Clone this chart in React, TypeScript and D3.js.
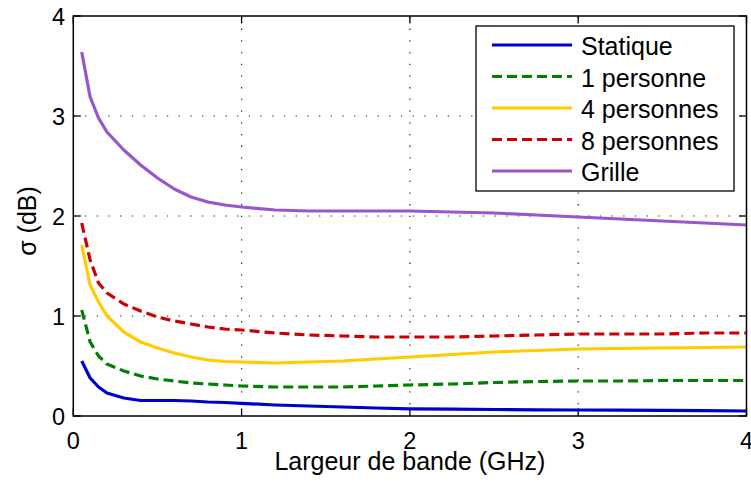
import React from "react";
import * as d3 from "d3";

const bandwidth = [0.05, 0.1, 0.15, 0.2, 0.3, 0.4, 0.5, 0.6, 0.7, 0.8, 0.9, 1.0, 1.2, 1.4, 1.6, 1.8, 2.0, 2.25, 2.5, 2.75, 3.0, 3.25, 3.5, 3.75, 4.0];

const statique = [0.55, 0.38, 0.29, 0.23, 0.18, 0.155, 0.155, 0.155, 0.15, 0.14, 0.135, 0.127, 0.11, 0.1, 0.09, 0.08, 0.072, 0.068, 0.065, 0.062, 0.06, 0.058, 0.056, 0.053, 0.05];
const unePersonne = [1.06, 0.74, 0.6, 0.52, 0.45, 0.4, 0.37, 0.35, 0.33, 0.32, 0.31, 0.3, 0.29, 0.29, 0.29, 0.3, 0.31, 0.32, 0.335, 0.345, 0.35, 0.35, 0.355, 0.355, 0.355];
const quatrePersonnes = [1.71, 1.31, 1.14, 1.0, 0.84, 0.74, 0.68, 0.63, 0.59, 0.56, 0.545, 0.54, 0.53, 0.54, 0.55, 0.57, 0.59, 0.615, 0.64, 0.655, 0.67, 0.675, 0.68, 0.685, 0.69];
const huitPersonnes = [1.93, 1.56, 1.33, 1.23, 1.12, 1.05, 0.99, 0.95, 0.92, 0.89, 0.87, 0.86, 0.83, 0.81, 0.8, 0.79, 0.79, 0.79, 0.8, 0.81, 0.82, 0.82, 0.82, 0.83, 0.83];
const grille = [3.64, 3.19, 2.98, 2.84, 2.66, 2.51, 2.38, 2.27, 2.19, 2.14, 2.11, 2.09, 2.06, 2.05, 2.05, 2.05, 2.05, 2.04, 2.03, 2.01, 1.99, 1.97, 1.95, 1.93, 1.91];

const seriesNames = ["Statique", "1 personne", "4 personnes", "8 personnes", "Grille"];
const seriesValues = [statique, unePersonne, quatrePersonnes, huitPersonnes, grille];
const seriesColors = ["#0000cc", "#008000", "#ffcc00", "#cc0000", "#9955cc"];
const seriesDashed = [false, true, false, true, false];

const xTicks = [0, 1, 2, 3, 4];
const yTicks = [0, 1, 2, 3, 4];

const xLabel = "Largeur de bande (GHz)";
const yLabel = "σ (dB)";

export default function App() {
  const W = 751, H = 489;
  const left = 73.3, right = 746.5, top = 16, bottom = 416;
  const x = d3.scaleLinear().domain([0, 4]).range([left, right]);
  const y = d3.scaleLinear().domain([0, 4]).range([bottom, top]);
  const line = d3.line<[number, number]>().x(d => x(d[0])).y(d => y(d[1]));
  const font = "'Liberation Sans', Arial, Helvetica, sans-serif";
  const tickLen = 7.5;

  const legX = 476, legY = 26, legW = 258, legH = 165;
  const rowY0 = 45, rowStep = 31.5;

  return (
    <svg width={W} height={H} style={{ position: "absolute", left: 0, top: 0, background: "#fff" }} fontFamily={font}>
      <rect x={0} y={0} width={W} height={H} fill="#fff" />
      {/* grid */}
      {xTicks.slice(1, -1).map(t => (
        <line key={"gx" + t} x1={x(t)} x2={x(t)} y1={bottom} y2={top} stroke="#222" strokeWidth={1.2} strokeDasharray="1.3,10.4" />
      ))}
      {yTicks.slice(1, -1).map(t => (
        <line key={"gy" + t} x1={left} x2={right} y1={y(t)} y2={y(t)} stroke="#222" strokeWidth={1.2} strokeDasharray="1.3,10.4" />
      ))}
      {/* ticks */}
      {xTicks.map(t => (
        <g key={"tx" + t}>
          <line x1={x(t)} x2={x(t)} y1={bottom} y2={bottom - tickLen} stroke="#000" strokeWidth={1.3} />
          <line x1={x(t)} x2={x(t)} y1={top} y2={top + tickLen} stroke="#000" strokeWidth={1.3} />
          <text x={x(t)} y={449} fontSize={23.5} textAnchor="middle" fill="#000">{t}</text>
        </g>
      ))}
      {yTicks.map(t => (
        <g key={"ty" + t}>
          <line x1={left} x2={left + tickLen} y1={y(t)} y2={y(t)} stroke="#000" strokeWidth={1.3} />
          <line x1={right} x2={right - tickLen} y1={y(t)} y2={y(t)} stroke="#000" strokeWidth={1.3} />
          <text x={65} y={y(t) + 1} fontSize={23.5} textAnchor="end" dominantBaseline="central" fill="#000">{t}</text>
        </g>
      ))}
      {/* curves */}
      <g>
        {seriesValues.map((vals, i) => (
          <path key={"s" + i}
            d={line(bandwidth.map((b, j) => [b, vals[j]] as [number, number])) || ""}
            fill="none" stroke={seriesColors[i]} strokeWidth={3.2}
            strokeDasharray={seriesDashed[i] ? "10,5" : undefined}
            strokeLinejoin="round" />
        ))}
      </g>
      {/* axes box */}
      <rect x={left} y={top} width={right - left} height={bottom - top} fill="none" stroke="#000" strokeWidth={1.5} />
      {/* legend */}
      <rect x={legX} y={legY} width={legW} height={legH} fill="#fff" stroke="#000" strokeWidth={1.3} />
      {seriesNames.map((n, i) => {
        const cy = rowY0 + i * rowStep;
        return (
          <g key={"l" + i}>
            <line x1={492} x2={572} y1={cy} y2={cy} stroke={seriesColors[i]} strokeWidth={3.2}
              strokeDasharray={seriesDashed[i] ? "10,5" : undefined} />
            <text x={581} y={cy + 1} fontSize={25} dominantBaseline="central" fill="#000">{n}</text>
          </g>
        );
      })}
      {/* labels */}
      <text x={(left + right) / 2} y={470} fontSize={25} textAnchor="middle" fill="#000">{xLabel}</text>
      <text transform={`translate(27,221) rotate(-90)`} fontSize={25} textAnchor="middle" dominantBaseline="central" fill="#000">{yLabel}</text>
    </svg>
  );
}
